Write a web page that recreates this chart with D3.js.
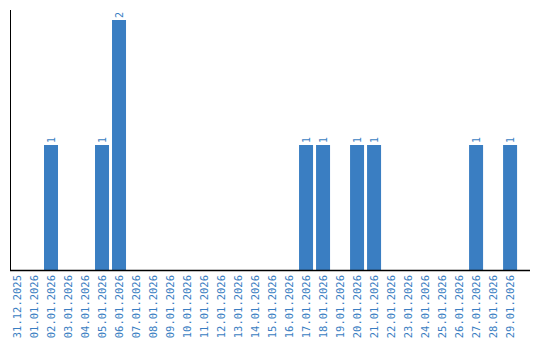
<!DOCTYPE html>
<html>
<head>
<meta charset="utf-8">
<script src="https://cdn.jsdelivr.net/npm/d3@7"></script>
<style>
    body { margin: 0; background: #fff; }
</style>
</head>
<body>
<div id="chart"></div>
<script>
    "use strict";
    // categories and values
    var dates = ["31.12.2025", "01.01.2026", "02.01.2026", "03.01.2026", "04.01.2026", "05.01.2026",
        "06.01.2026", "07.01.2026", "08.01.2026", "09.01.2026", "10.01.2026", "11.01.2026",
        "12.01.2026", "13.01.2026", "14.01.2026", "15.01.2026", "16.01.2026", "17.01.2026",
        "18.01.2026", "19.01.2026", "20.01.2026", "21.01.2026", "22.01.2026", "23.01.2026",
        "24.01.2026", "25.01.2026", "26.01.2026", "27.01.2026", "28.01.2026", "29.01.2026"];
    var counts = [0, 0, 1, 0, 0, 1, 2, 0, 0, 0, 0, 0, 0, 0, 0, 0, 0, 1, 1, 0, 1, 1, 0, 0, 0, 0, 0, 1, 0, 1];
    var yDomain = [0, 2];

    var width = 540, height = 340;
    var barColor = "#3a7ec2";
    var textColor = "#3a7ec2";

    var svg = d3.select("#chart")
        .append("svg")
        .attr("width", width)
        .attr("height", height);

    var x = d3.scaleBand()
        .domain(dates)
        .range([10, 530])
        .paddingInner(3 / 17)
        .paddingOuter(0.38)
        .align(0);

    var y = d3.scaleLinear()
        .domain(yDomain)
        .range([270, 20]);

    var data = dates.map(function (d, i) { return { date: d, value: counts[i] }; });

    // bars
    svg.selectAll("rect.bar")
        .data(data.filter(function (d) { return d.value > 0; }))
        .enter()
        .append("rect")
        .attr("class", "bar")
        .attr("x", function (d) { return x(d.date); })
        .attr("y", function (d) { return y(d.value); })
        .attr("width", x.bandwidth())
        .attr("height", function (d) { return y(0) - y(d.value); })
        .attr("fill", barColor);

    // value labels, rotated
    svg.selectAll("text.val")
        .data(data.filter(function (d) { return d.value > 0; }))
        .enter()
        .append("text")
        .attr("class", "val")
        .attr("transform", function (d) {
            return "translate(" + (x(d.date) + x.bandwidth() / 2 + 3.5) + "," + (y(d.value) - 2) + ") rotate(-90)";
        })
        .attr("font-family", "DejaVu Sans Mono")
        .attr("font-size", "10px")
        .attr("fill", textColor)
        .text(function (d) { return d.value; });

    // x axis
    var xAxis = svg.append("g")
        .attr("transform", "translate(0,270)")
        .call(d3.axisBottom(x).tickSize(0).tickPadding(0));
    xAxis.select(".domain")
        .attr("d", "M10,0.5H530")
        .attr("stroke", "#000")
        .attr("stroke-width", 1.5);
    xAxis.selectAll("text")
        .attr("font-family", "DejaVu Sans Mono")
        .attr("font-size", "10.5px")
        .attr("fill", textColor)
        .attr("text-anchor", "end")
        .attr("dy", null)
        .attr("y", 0)
        .attr("transform", "translate(4,5) rotate(-90)");

    // y axis line only
    var yAxis = svg.append("g")
        .attr("transform", "translate(10.5,0)")
        .call(d3.axisLeft(y).ticks(0).tickSize(0));
    yAxis.select(".domain")
        .attr("d", "M0,10V270")
        .attr("stroke", "#000")
        .attr("stroke-width", 1);
    yAxis.selectAll(".tick").remove();
</script>
</body>
</html>
